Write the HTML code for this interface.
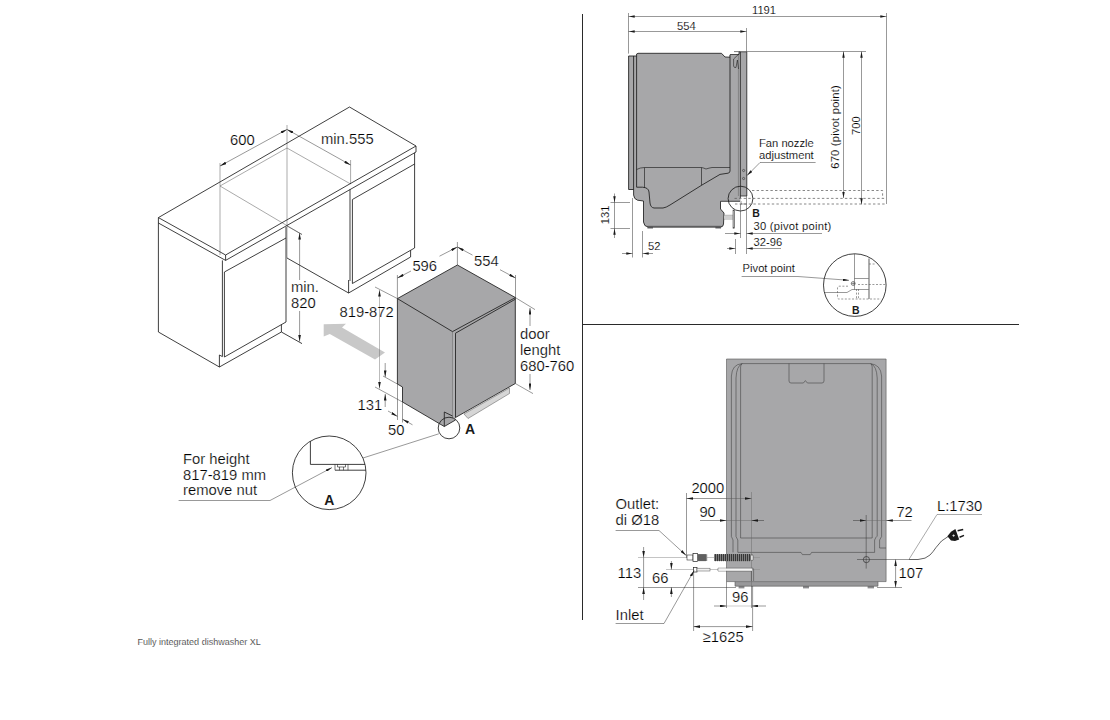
<!DOCTYPE html>
<html lang="en"><head><meta charset="utf-8"><title>Fully integrated dishwasher XL</title>
<style>
html,body{margin:0;padding:0;background:#fff}
body{width:1110px;height:720px;overflow:hidden;position:relative}
svg{display:block;position:absolute;left:0;top:0}
text{font-family:"Liberation Sans",sans-serif;fill:#000;stroke:#fff;stroke-width:.22px}
.b{font-size:14.8px}
.s{font-size:11.2px;stroke-width:.12px}
.bd{font-weight:bold;fill:#1a1a1a;stroke:none}
.l{stroke:#1e1e1e;stroke-width:.85;fill:none;stroke-linejoin:round}
.d{stroke:#333;stroke-width:.5;fill:none}
.h{stroke:#555;stroke-width:.5;fill:none}
.g{fill:#a7a7a9}
.ds{stroke:#555;stroke-width:.7;fill:none;stroke-dasharray:2.4 2.2}
</style></head><body>
<svg width="1110" height="720" viewBox="0 0 1110 720">
<defs>
<marker id="a" viewBox="0 0 10 4" refX="10" refY="2" markerWidth="6.6" markerHeight="2.7" markerUnits="userSpaceOnUse" orient="auto-start-reverse"><path d="M0,0 L10,2 L0,4 z" fill="#1a1a1a"/></marker>
<marker id="as" viewBox="0 0 10 4" refX="10" refY="2" markerWidth="6.2" markerHeight="2.5" markerUnits="userSpaceOnUse" orient="auto-start-reverse"><path d="M0,0 L10,2 L0,4 z" fill="#1a1a1a"/></marker>
</defs>

<!-- ================= LEFT: isometric installation ================= -->
<g id="iso">
<!-- hidden niche lines -->
<path class="h" d="M220,186 L287,148 L350.6,184 M220,186 L302,234.5 M220,163 V255 M287,125 V258 M350.6,160 V184"/>
<!-- worktop -->
<path class="l" d="M158.4,217.6 L349.5,107 L416,146 L225.6,255 Z M158.4,217.6 V223 L225.6,260.4 L416,152 V146 M225.6,255 V260.4"/>
<!-- left cabinet -->
<path class="l" d="M158.4,223 V332 L219.4,367 L281.4,332 V324.6 M219.4,367 V355 L222.4,356.6 M222.4,260.4 V356.6 M224.4,272 V357 L286,322 V227 M224.4,272 L286,238 M281.4,332 L302,343.6"/>
<!-- right cabinet -->
<path class="l" d="M414.6,152.8 V248 L352.4,283.5 V199.5 L414.6,164 M350,189.4 V281 M348.6,280 V293 L410.6,257 V250.3 M348.6,293 L287,258"/>
<!-- dims on cabinets -->
<path class="d" d="M220,166 L287,129.4" marker-start="url(#a)" marker-end="url(#a)"/>
<path class="d" d="M287,129.4 L350.6,165" marker-start="url(#a)" marker-end="url(#a)"/>
<text class="b" x="230" y="145">600</text>
<text class="b" x="321" y="144">min.555</text>
<path class="d" d="M299.6,280 V233" marker-end="url(#a)"/>
<path class="d" d="M299.6,311 V341.6" marker-end="url(#a)"/>
<path class="d" d="M287,226 L302,234.5"/>
<text class="b" x="291" y="292">min.</text>
<text class="b" x="291" y="308">820</text>
<!-- grey arrow -->
<polygon points="323.7,324.2 346,323.8 342,327.6 385,352.5 375,359.4 329.8,333.9 323.7,336.5" fill="#c8c8c8"/>
<!-- dishwasher -->
<polygon class="g" points="397.4,298.6 457.4,265 515.4,297.6 515.3,383.5 455.5,417.5 455.5,420 444.3,426.5 402.5,402 402.5,387 397.4,384"/>
<polygon points="452.5,331.6 455.5,333.2 455.5,417.5 452.5,419" fill="#b0b0b2"/><path d="M452.5,331.6 V418.5" stroke="#666" stroke-width=".5" fill="none"/>
<polygon points="464,414 509.5,388 509.5,393.5 468,418.5" fill="#d6d6d6" stroke="#555" stroke-width=".5"/>
<path class="l" d="M397.4,298.6 L457.4,265 L515.4,297.6 L452.5,331.6 Z M455.5,333.2 L515.4,299.2 M397.4,298.6 V384 L402.5,387 V402 L444.3,426.5 L455.5,420 M455.5,333.2 V417.5 L515.3,383.5 V297.6 M444.3,412 V426.5 M444.3,412 L452.5,416"/>
<!-- dishwasher dims -->
<path class="d" d="M397.4,275 V298.6 M457.4,242 V265 M515.5,275 V297.6"/>
<path class="d" d="M411,271 L397.4,278" marker-end="url(#a)"/><path class="d" d="M439.5,256.2 L457.4,247" marker-end="url(#a)"/>
<path class="d" d="M472.5,255.1 L457.4,247" marker-end="url(#a)"/><path class="d" d="M500,269.7 L515.5,278" marker-end="url(#a)"/>
<text class="b" x="412.4" y="271">596</text>
<text class="b" x="474" y="266">554</text>
<path class="d" d="M375,287 L397.4,298.6 M375,387 L402.5,402 M383,376 L397.4,384"/>
<path style="stroke-width:.45;stroke:#666" class="h" d="M379.5,290 V388.5" marker-start="url(#a)" marker-end="url(#a)"/>
<text class="b" x="339.5" y="316.5">819-872</text>
<path class="d" d="M515.4,297.6 L535,309.6 M515.3,383.5 L533,393.6"/>
<path class="d" d="M530,326 V308" marker-end="url(#a)"/>
<path class="d" d="M530,374 V390" marker-end="url(#a)"/>
<text class="b" x="520" y="339.4">door</text>
<text class="b" x="520" y="355">lenght</text>
<text class="b" x="520" y="370.6">680-760</text>
<path class="d" d="M385.2,363 V377" marker-end="url(#a)"/>
<path class="d" d="M385.2,407 V394" marker-end="url(#a)"/>
<text class="b" x="357.5" y="410">131</text>
<path class="d" d="M397.5,384 V420 M402.5,402 V422.5"/>
<path class="d" d="M388,411 L397.5,416.4" marker-end="url(#a)"/>
<path class="d" d="M412.5,424.8 L402.5,419.2" marker-end="url(#a)"/>
<text class="b" x="388" y="435">50</text>
<!-- detail A -->
<circle class="l" cx="449" cy="428" r="10.8"/>
<text class="bd" x="465" y="433.5" font-size="14px">A</text>
<path class="d" d="M438.8,433.8 L363,458"/>
<circle class="l" cx="329.2" cy="472.8" r="36.8"/>
<path class="l" d="M310.4,441.2 V464.4 H365 M335,470.2 H365.8"/>
<path style="stroke-width:.6" class="l" d="M335,464.4 V470.2 M348,464.4 V470.2 M337.5,464.4 V467 H345.5 V464.4 M339.5,467 V470.2 M343.5,467 V470.2"/>
<text class="bd" x="329.2" y="505" font-size="14px" text-anchor="middle">A</text>
<text class="b" x="183" y="463.6">For height</text>
<text class="b" x="183" y="479.6">817-819 mm</text>
<text class="b" x="183" y="495">remove nut</text>
<path class="d" d="M178.6,500.5 H270 L332,467.6" marker-end="url(#a)"/>
</g>

<!-- ================= DIVIDERS ================= -->
<path d="M582.5,14 V620 M582.5,324.5 H1019" stroke="#2a2a2a" stroke-width="1" fill="none"/>

<!-- ================= RIGHT TOP: side view ================= -->
<g id="side">
<!-- silhouette -->
<path class="g" d="M628.6,56 H636.6 V54 L638,53.3 H721.5 L725,57 L729.5,57.2 V54.5 H739 V51.8 H747 V196 H740.5 V201 H720.5 V209 L724,213 L723.5,224 Q723.3,227 720.5,227 H648 Q644,226.5 643.5,222 V201 L637.5,200.2 Q633.8,199 633.6,195 V189.5 H628.6 Z"/>
<!-- feet -->
<rect x="647.4" y="225.4" width="74" height="2" fill="#8f8f91"/><rect x="647.4" y="226.6" width="5.6" height="2" fill="#7e7e80"/><rect x="715.4" y="226.6" width="5.6" height="2" fill="#7e7e80"/>
<!-- outline & inner lines -->
<path class="l" d="M628.6,56 V189.5 H633.6 M633.6,56 V195 Q633.8,199 637.5,200.2 L643.5,201 V222 Q644,226.5 648,227 H720.5 Q723.3,227 723.5,224 L724,213 L720.5,209 V201.3 H740 M636.6,54 V187.2 H642.5 Q648.6,187.6 649,192 L650,203 Q650.6,207.6 654,208 H663 Q666,207.6 670,205 L702,185 L720,174.4 L728,173.2 Q730,172.8 730,171 V55 M636.6,54 L638,53.3 H721.5 L725,57 L730,57.2 M628.6,56 H636.6"/>
<path style="stroke-width:.65" class="l" d="M636.6,169.5 Q640,167.6 644.5,167.5 H701.5 Q704,168 706,169 Q709,168 712,167.5 H730 M644.5,167.5 V188 M701.5,167.5 V185"/>
<path d="M738.4,54.5 V196" stroke="#555" stroke-width=".45" fill="none"/><path style="stroke-width:.75" class="l" d="M740.4,51.8 V198 M746.8,51.8 V196 H740.4 M739,51.8 H746.8 M730,54.5 H739 V51.8" />
<!-- hook -->
<path style="stroke-width:.6" class="l" d="M734,51.6 H739.5 M739.3,53.6 L733.6,59 V66 Q734,68 736,67.5 L737.4,60 L738.6,69"/>
<!-- fan nozzle holes -->
<circle cx="743.6" cy="170.5" r="1.1" style="stroke-width:.5" class="l"/><circle cx="743.6" cy="178.5" r="1.1" style="stroke-width:.5" class="l"/>
<!-- hose stub -->
<path d="M724,215.3 H733 M724,219 H733" stroke="#666" stroke-width=".6" fill="none"/>
<rect x="724" y="215.6" width="9" height="3.2" fill="#cfcfcf"/>
<rect x="733" y="210" width="1.7" height="18.2" fill="#c4c4c4" stroke="#333" stroke-width=".5"/>
<!-- circle B and dashed open door -->
<circle class="l" cx="740.5" cy="198.6" r="12.4"/>
<path class="ds" d="M752,190.5 H882.6 V198 M734.5,198.4 H886 M735,204 H886" />
<path class="d" d="M741,201 V204 H746.5 V196"/>
<text class="bd" x="752.3" y="217.2" font-size="10.5px">B</text>
<!-- dims top -->
<path class="d" d="M628.5,13 V53.6 M746.5,28 V51.5 M746.5,51.5 H866 M886.5,13 V204"/>
<path class="d" d="M628.5,16.5 H886.5" marker-start="url(#as)" marker-end="url(#as)"/>
<path class="d" d="M628.5,31.5 H746.5" marker-start="url(#as)" marker-end="url(#as)"/>
<text class="s" x="752" y="13.6">1191</text>
<text class="s" x="677" y="30">554</text>
<path class="d" d="M843.5,51.5 V198" marker-start="url(#as)" marker-end="url(#as)"/>
<path class="d" d="M861.5,51.5 V204.4" marker-start="url(#as)" marker-end="url(#as)"/>
<text class="s" transform="translate(838.8,127) rotate(-90)" text-anchor="middle" textLength="83.6">670 (pivot point)</text>
<text class="s" transform="translate(860,125.7) rotate(-90)" text-anchor="middle">700</text>
<!-- fan nozzle label -->
<text class="s" x="759" y="147">Fan nozzle</text>
<text class="s" x="759" y="158.6">adjustment</text>
<path class="d" d="M815.6,162.5 H760 L747,175.6" marker-end="url(#as)"/>
<!-- 131 / 52 -->
<path class="d" d="M610.5,202.5 H630 M610.5,228.5 H630"/>
<path class="d" d="M614.5,193.5 V202.5" marker-end="url(#as)"/>
<path class="d" d="M614.5,238 V228.5" marker-end="url(#as)"/>
<path class="d" d="M614.5,202.5 V228.5"/>
<text class="s" transform="translate(609.2,214.8) rotate(-90)" text-anchor="middle">131</text>
<path class="d" d="M632.5,198 V257.5 M642.5,231 V257.5"/>
<path class="d" d="M622,253.5 H632.5" marker-end="url(#as)"/>
<path class="d" d="M653,253.5 H642.5" marker-end="url(#as)"/>
<text class="s" x="648" y="250">52</text>
<!-- 30 / 32-96 -->
<path class="d" d="M740.5,204 V238 M746.5,204 V254 M735.5,239 V254"/>
<path class="d" d="M725,233.5 H740.5" marker-end="url(#as)"/>
<path class="d" d="M822,233.5 H746.5" marker-end="url(#as)"/>
<text class="s" x="753.6" y="229.6" textLength="77.6">30 (pivot point)</text>
<path class="d" d="M727,248.5 H735.5" marker-end="url(#as)"/>
<path class="d" d="M781,248.5 H746.5" marker-end="url(#as)"/>
<text class="s" x="753.6" y="246.4">32-96</text>
<!-- Pivot point detail -->
<text class="s" x="742.6" y="272.4">Pivot point</text>
<path class="d" d="M741.6,276.5 H798 L849,280.3" marker-end="url(#as)"/>
<circle class="l" cx="854.8" cy="285.1" r="31.3"/>
<path style="stroke-width:.5;stroke:#333" class="l" d="M854.5,253.8 V290 M854.5,278.5 H869 M855,289.5 H869 M824.5,292.5 H847 L852,289.5 H854.5"/>
<path d="M869,258.5 V299" stroke="#777" stroke-width="1.2" fill="none"/>
<circle cx="853.2" cy="283.5" r="2" style="stroke-width:.5;stroke:#333" class="l"/>
<path style="stroke-width:.4" class="l" d="M851.2,283.5 H855.2 M853.2,281.5 V285.5"/>
<path style="stroke-width:.6;stroke-dasharray:2 1.6" class="ds" d="M858,284.5 H886 M869,264 H876 M848,286.2 H839 Q837.5,286.4 837.5,288 V297.5 Q837.6,299 839,299 H881 M856.5,289 V299 M858.5,289 V299"/>
<text class="bd" x="855.7" y="314" font-size="10.5px" text-anchor="middle">B</text>
</g>



<!-- ================= RIGHT BOTTOM: back view ================= -->
<g id="back">
<rect class="g" x="726.5" y="359" width="159.6" height="222.6"/>
<rect x="735" y="581.6" width="143" height="4.6" fill="#98989a"/>
<rect x="738.6" y="586" width="5.8" height="2.4" fill="#8c8c8e"/><rect x="803" y="586" width="6" height="2.4" fill="#8c8c8e"/><rect x="867.6" y="586" width="6.4" height="2.4" fill="#8c8c8e"/>
<path style="stroke-width:.6;stroke:#555" class="l" d="M726.5,359 H886.1 V581.6 H726.5 Z M735,581.6 V586.2 H878 V581.6"/>
<!-- inner frame lines -->
<path style="stroke-width:.55;stroke:#3c3c3c" class="l" d="M731.4,536.5 V376 Q732,364.4 742,363.6 H870 Q880.8,364.4 881.6,376 V536.5 M736,536.5 V378 Q736.6,366 742,363.8 M877.2,536.5 V378 Q876.6,366 871,363.8 M740.6,538 V367 Q740.7,364 742.4,363.6 M872.2,538 V367 Q872,364 870.4,363.6 M740.6,538 H872.2"/>
<path style="stroke-width:.55;stroke:#3c3c3c" class="l" d="M731.4,536.5 L733,540 V552.4 M736,536.5 L737.8,540 V552.4 H801 L802.4,554.6 H810.2 L811.6,552.4 H874.6 V540 L876.4,536.5 M881.6,536.5 L879.6,540 V548 H886"/>
<!-- top notch -->
<path style="stroke-width:.55;stroke:#3c3c3c" class="l" d="M789,363.6 V381 Q789.2,383 791,383 H803.4 L805.4,380.6 L807.4,383 H822 Q823.8,383 824,381 V363.6"/>
<!-- cable hole -->
<circle style="stroke-width:.6" class="l" cx="866.4" cy="559.6" r="3.1"/>
<path class="d" d="M866.2,515 V568.6 M857,559.5 H909"/>
<!-- cable + plug -->
<path style="stroke-width:.7" class="l" d="M909,559.5 H918 Q926,559 930,555 Q933,552 936,547.5 Q941,540 948,536.6"/>
<path d="M947.4,536.2 L951,531.8 L955.4,529 L959.2,539.4 L955,541 L951,540.4 Z" fill="#1a1a1a"/>
<path d="M957.6,530.8 L963.2,529.4 M959.6,537.2 L964,535.4" stroke="#1a1a1a" stroke-width="1.5" fill="none"/>
<path d="M952.3,535.6 H954.9 M953.6,534.4 V536.8" stroke="#fff" stroke-width=".7"/>
<!-- L:1730 -->
<text class="b" x="937" y="511">L:1730</text>
<path style="stroke:#555" class="h" d="M982,514.5 H937 L909,559.3"/>
<!-- 72 -->
<path class="d" d="M853,520.5 H866.2" marker-end="url(#a)"/>
<path class="d" d="M911.5,520.5 H886.2" marker-end="url(#a)"/>
<path d="M866.2,520.5 H886.2" stroke="#666" stroke-width=".45" fill="none"/>
<text class="b" x="896.4" y="516.6">72</text>
<!-- 107 -->
<path class="d" d="M877,587.5 H902"/>
<path class="d" d="M895.6,559.5 V587.5" marker-start="url(#a)" marker-end="url(#a)"/>
<text class="b" x="898.6" y="578">107</text>
<!-- 2000 / 90 -->
<path class="d" d="M686.5,493 V558 M751.5,586 V608"/><path d="M751.5,492 V586" stroke="#666" stroke-width=".45" fill="none"/>
<path class="d" d="M686.5,498.5 H726.5" marker-start="url(#a)"/><path d="M726.5,498.5 H751.5" stroke="#555" stroke-width=".45" fill="none" marker-end="url(#a)"/>
<text class="b" x="691.4" y="493">2000</text>
<path class="d" d="M700,520.5 H726.5" marker-end="url(#a)"/>
<path class="d" d="M764,520.5 H751.5" marker-end="url(#a)"/>
<path d="M726.5,520.5 H751.5" stroke="#666" stroke-width=".45" fill="none"/>
<text class="b" x="699.4" y="517.4">90</text>
<!-- outlet hose -->
<path style="stroke:#888" class="h" d="M638,557.5 H760 M666,569.5 H760"/>
<rect x="687" y="555" width="6" height="5" fill="#fff" stroke="#333" stroke-width=".6"/>
<rect x="693" y="553.6" width="4.6" height="8" fill="#fff" stroke="#222" stroke-width=".7"/>
<rect x="697.6" y="554.2" width="9.6" height="6.8" fill="#8a8a8a"/>
<path d="M699,554 V561.2 M701,554 V561.2 M703,554 V561.2 M705,554 V561.2" stroke="#222" stroke-width=".8"/>
<rect x="714" y="554.2" width="38.6" height="6.8" fill="#8a8a8a"/>
<path d="M715.4,554 V561.2 M717.4,554 V561.2 M719.4,554 V561.2 M721.4,554 V561.2 M723.4,554 V561.2 M725.4,554 V561.2 M727.4,554 V561.2 M729.4,554 V561.2 M731.4,554 V561.2 M733.4,554 V561.2 M735.4,554 V561.2 M737.4,554 V561.2 M739.4,554 V561.2 M741.4,554 V561.2 M743.4,554 V561.2 M745.4,554 V561.2 M747.4,554 V561.2 M749.4,554 V561.2" stroke="#222" stroke-width=".9"/>
<rect x="750.6" y="555" width="2.6" height="5.4" rx="1" fill="#e8e8e8" stroke="#333" stroke-width=".5"/>
<!-- inlet hose -->
<rect x="693.6" y="567.4" width="3.4" height="4.6" fill="#fff" stroke="#222" stroke-width=".7"/>
<rect x="697" y="568.2" width="13" height="2.8" fill="#f2f2f2" stroke="#555" stroke-width=".5"/>
<path d="M718,568.2 H752.6 Q753.6,568.4 753.6,569.6 V581 M718,571 H751.4 V581 M718,568.2 V571" fill="none" stroke="#444" stroke-width=".55"/>
<path d="M718.4,569.6 H752" stroke="#f4f4f4" stroke-width="2.2"/>
<!-- Outlet label -->
<text class="b" x="615.6" y="509">Outlet:</text>
<text class="b" x="615.6" y="525">di Ø18</text>
<path class="d" d="M615.6,530.5 H659 L686.2,555.4" marker-end="url(#a)"/>
<!-- 113 / 66 -->
<path class="d" d="M638,587.5 H736"/>
<path class="d" d="M643.6,547 V557.5" marker-end="url(#a)"/>
<path class="d" d="M643.6,600 V587.3" marker-end="url(#a)"/>
<path class="d" d="M643.6,557.5 V587.3"/>
<text class="b" x="617.6" y="578">113</text>
<path class="d" d="M671.4,561 V569.5" marker-end="url(#a)"/>
<path class="d" d="M671.4,597 V587.3" marker-end="url(#a)"/>
<text class="b" x="652" y="583.4">66</text>
<!-- Inlet -->
<text class="b" x="615.6" y="620">Inlet</text>
<path class="d" d="M615.6,623.5 H664 L694.2,570.4" marker-end="url(#a)"/>
<!-- 96 -->
<path class="d" d="M726.5,581.6 V608"/>
<path class="d" d="M714,606 H726.5" marker-end="url(#a)"/>
<path class="d" d="M766,606 H751.6" marker-end="url(#a)"/>
<path style="stroke:#999" class="h" d="M726.5,606 H751.6"/>
<text class="b" x="732" y="602">96</text>
<!-- >=1625 -->
<path class="d" d="M693.6,572 V631 M752.6,586 V631"/>
<path class="d" d="M693.6,626.6 H752.6" marker-start="url(#a)" marker-end="url(#a)"/>
<text class="b" x="702.6" y="642">≥1625</text>
</g>



<text x="137.6" y="645" font-size="9px" fill="#333">Fully integrated dishwasher XL</text>
</svg>
</body></html>
